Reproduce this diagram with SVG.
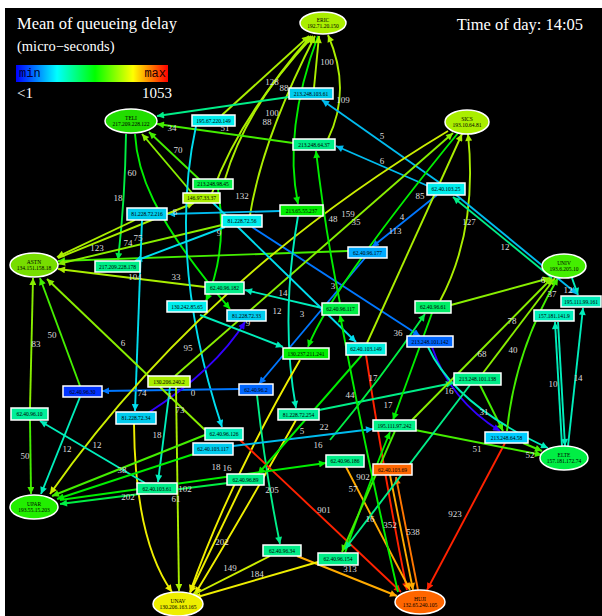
<svg xmlns="http://www.w3.org/2000/svg" width="602" height="616" viewBox="0 0 602 616">
<style>
.e{fill:none;stroke-width:1.9}
.yg{stroke:#aaee00}.lg{stroke:#88ee00}.g1{stroke:#44ee00}.g2{stroke:#00ee00}.g3{stroke:#00ee44}
.sg{stroke:#00ee88}.tl{stroke:#00eebb}.cy{stroke:#00ddee}.lb{stroke:#00bbee}.bl{stroke:#0077ff}
.in{stroke:#3300ff}.ye{stroke:#eeee00}.yo{stroke:#ccee00}.or{stroke:#ffaa00}.rd{stroke:#ff2200}.oo{stroke:#ff7700}
.lab{font-family:"Liberation Serif",serif;font-size:9px;fill:#dddddd;text-anchor:middle}
.bx{stroke:#ffffff;stroke-width:1.5}
.nt{font-family:"Liberation Serif",serif;font-size:5.5px;fill:#000;text-anchor:middle}
.ttl{font-family:"Liberation Serif",serif;fill:#ffffff}
</style>
<defs>
<linearGradient id="grad" x1="0" x2="1" y1="0" y2="0">
<stop offset="0" stop-color="#0000ff"/><stop offset="0.27" stop-color="#00ffff"/><stop offset="0.52" stop-color="#00ff00"/><stop offset="0.77" stop-color="#ffff00"/><stop offset="1" stop-color="#ff0000"/>
</linearGradient>
<marker id="m-yg" viewBox="0 0 10 10" refX="10" refY="5" markerWidth="9" markerHeight="7" markerUnits="userSpaceOnUse" orient="auto"><path d="M0,0L10,5L0,10z" fill="#aaee00"/></marker>
<marker id="m-lg" viewBox="0 0 10 10" refX="10" refY="5" markerWidth="9" markerHeight="7" markerUnits="userSpaceOnUse" orient="auto"><path d="M0,0L10,5L0,10z" fill="#88ee00"/></marker>
<marker id="m-g1" viewBox="0 0 10 10" refX="10" refY="5" markerWidth="9" markerHeight="7" markerUnits="userSpaceOnUse" orient="auto"><path d="M0,0L10,5L0,10z" fill="#44ee00"/></marker>
<marker id="m-g2" viewBox="0 0 10 10" refX="10" refY="5" markerWidth="9" markerHeight="7" markerUnits="userSpaceOnUse" orient="auto"><path d="M0,0L10,5L0,10z" fill="#00ee00"/></marker>
<marker id="m-g3" viewBox="0 0 10 10" refX="10" refY="5" markerWidth="9" markerHeight="7" markerUnits="userSpaceOnUse" orient="auto"><path d="M0,0L10,5L0,10z" fill="#00ee44"/></marker>
<marker id="m-sg" viewBox="0 0 10 10" refX="10" refY="5" markerWidth="9" markerHeight="7" markerUnits="userSpaceOnUse" orient="auto"><path d="M0,0L10,5L0,10z" fill="#00ee88"/></marker>
<marker id="m-tl" viewBox="0 0 10 10" refX="10" refY="5" markerWidth="9" markerHeight="7" markerUnits="userSpaceOnUse" orient="auto"><path d="M0,0L10,5L0,10z" fill="#00eebb"/></marker>
<marker id="m-cy" viewBox="0 0 10 10" refX="10" refY="5" markerWidth="9" markerHeight="7" markerUnits="userSpaceOnUse" orient="auto"><path d="M0,0L10,5L0,10z" fill="#00ddee"/></marker>
<marker id="m-lb" viewBox="0 0 10 10" refX="10" refY="5" markerWidth="9" markerHeight="7" markerUnits="userSpaceOnUse" orient="auto"><path d="M0,0L10,5L0,10z" fill="#00bbee"/></marker>
<marker id="m-bl" viewBox="0 0 10 10" refX="10" refY="5" markerWidth="9" markerHeight="7" markerUnits="userSpaceOnUse" orient="auto"><path d="M0,0L10,5L0,10z" fill="#0077ff"/></marker>
<marker id="m-in" viewBox="0 0 10 10" refX="10" refY="5" markerWidth="9" markerHeight="7" markerUnits="userSpaceOnUse" orient="auto"><path d="M0,0L10,5L0,10z" fill="#3300ff"/></marker>
<marker id="m-ye" viewBox="0 0 10 10" refX="10" refY="5" markerWidth="9" markerHeight="7" markerUnits="userSpaceOnUse" orient="auto"><path d="M0,0L10,5L0,10z" fill="#eeee00"/></marker>
<marker id="m-yo" viewBox="0 0 10 10" refX="10" refY="5" markerWidth="9" markerHeight="7" markerUnits="userSpaceOnUse" orient="auto"><path d="M0,0L10,5L0,10z" fill="#ccee00"/></marker>
<marker id="m-or" viewBox="0 0 10 10" refX="10" refY="5" markerWidth="9" markerHeight="7" markerUnits="userSpaceOnUse" orient="auto"><path d="M0,0L10,5L0,10z" fill="#ffaa00"/></marker>
<marker id="m-oo" viewBox="0 0 10 10" refX="10" refY="5" markerWidth="9" markerHeight="7" markerUnits="userSpaceOnUse" orient="auto"><path d="M0,0L10,5L0,10z" fill="#ff7700"/></marker>
<marker id="m-rd" viewBox="0 0 10 10" refX="10" refY="5" markerWidth="9" markerHeight="7" markerUnits="userSpaceOnUse" orient="auto"><path d="M0,0L10,5L0,10z" fill="#ff2200"/></marker>
</defs>
<rect x="0" y="0" width="602" height="616" fill="#ffffff"/>
<rect x="5" y="8" width="597" height="608" fill="#000000"/>
<g id="legend">
<text class="ttl" x="17" y="29" font-size="16.5">Mean of queueing delay</text>
<text class="ttl" x="17" y="51" font-size="14.5">(micro−seconds)</text>
<rect x="16" y="65" width="152" height="17" fill="url(#grad)"/>
<text x="19" y="77" font-family="Liberation Mono,monospace" font-size="12" fill="#000033">min</text>
<text x="166" y="77" font-family="Liberation Mono,monospace" font-size="12" fill="#220000" text-anchor="end">max</text>
<text class="ttl" x="17" y="98" font-size="15">&lt;1</text>
<text class="ttl" x="172" y="98" font-size="15" text-anchor="end">1053</text>
<text class="ttl" x="583" y="30" font-size="16.5" text-anchor="end">Time of day: 14:05</text>
</g>
<g id="connectors">
<path class="e yg" d="M222,115 L309,36" marker-end="url(#m-yg)"/>
<path class="e yg" d="M225,179 Q245,110 311,36" marker-end="url(#m-yg)"/>
<path class="e yg" d="M212,193 Q240,115 313,36" marker-end="url(#m-yg)"/>
<path class="e yg" d="M250,215 Q262,140 315,36" marker-end="url(#m-yg)"/>
<path class="e g2" d="M318,36 Q283,130 298,204" marker-end="url(#m-g2)"/>
<path class="e yg" d="M314,88 L319,36" marker-end="url(#m-yg)"/>
<path class="e yg" d="M328,139 Q352,90 328,35" marker-end="url(#m-yg)"/>
<path class="e lb" d="M440,183 L322,100" marker-end="url(#m-lb)"/>
<path class="e lb" d="M428,186 L336,146" marker-end="url(#m-lb)"/>
<path class="e sg" d="M289,97 L157,116" marker-end="url(#m-sg)"/>
<path class="e g1" d="M293,143 L157,124" marker-end="url(#m-g1)"/>
<path class="e g1" d="M200,180 L149,132" marker-end="url(#m-g1)"/>
<path class="e lg" d="M192,193 L142,134" marker-end="url(#m-lg)"/>
<path class="e g3" d="M126,134 Q125,200 118,260" marker-end="url(#m-g3)"/>
<path class="e g2" d="M135,134 C137,170 150,215 230,309" marker-end="url(#m-g2)"/>
<path class="e g2" d="M218,189 Q228,250 206,301" marker-end="url(#m-g2)"/>
<path class="e lb" d="M280,211 L168,214" marker-end="url(#m-lb)"/>
<path class="e yg" d="M135,220 L57,257" marker-end="url(#m-yg)"/>
<path class="e yg" d="M58,258 L194,203" marker-end="url(#m-yg)"/>
<path class="e g1" d="M348,251 L58,261" marker-end="url(#m-g1)"/>
<path class="e lg" d="M222,225 L58,264" marker-end="url(#m-lg)"/>
<path class="e cy" d="M225,227 L135,261" marker-end="url(#m-cy)"/>
<path class="e yg" d="M205,287 L58,269" marker-end="url(#m-yg)"/>
<path class="e tl" d="M322,308 L245,290" marker-end="url(#m-tl)"/>
<path class="e cy" d="M196,126 C180,200 180,300 222,427" marker-end="url(#m-cy)"/>
<path class="e cy" d="M142,220 L135,411" marker-end="url(#m-cy)"/>
<path class="e bl" d="M239,389 L102,391" marker-end="url(#m-bl)"/>
<path class="e in" d="M148,413 Q215,370 245,322" marker-end="url(#m-in)"/>
<path class="e bl" d="M252,227 L420,336" marker-end="url(#m-bl)"/>
<path class="e bl" d="M365,258 L259,384" marker-end="url(#m-bl)"/>
<path class="e bl" d="M437,195 L372,247" marker-end="url(#m-bl)"/>
<path class="e yg" d="M440,301 Q478,230 468,134" marker-end="url(#m-yg)"/>
<path class="e yo" d="M448,131 Q200,280 50,494" marker-end="url(#m-yo)"/>
<path class="e lg" d="M175,376 L453,133" marker-end="url(#m-lg)"/>
<path class="e g2" d="M458,133 Q330,290 308,347" marker-end="url(#m-g2)"/>
<path class="e yg" d="M367,343 L462,134" marker-end="url(#m-yg)"/>
<path class="e g2" d="M340,303 Q325,230 316,151" marker-end="url(#m-g2)"/>
<path class="e tl" d="M298,216 Q280,320 296,408" marker-end="url(#m-tl)"/>
<path class="e tl" d="M200,315 L283,347" marker-end="url(#m-tl)"/>
<path class="e cy" d="M207,197 L356,342" marker-end="url(#m-cy)"/>
<path class="e ye" d="M300,360 Q230,480 190,592" marker-end="url(#m-ye)"/>
<path class="e ye" d="M296,420 Q240,520 195,594" marker-end="url(#m-ye)"/>
<path class="e ye" d="M134,424 Q135,540 172,592" marker-end="url(#m-ye)"/>
<path class="e yg" d="M176,387 L179,591" marker-end="url(#m-yg)"/>
<path class="e tl" d="M170,387 L158,482" marker-end="url(#m-tl)"/>
<path class="e sg" d="M257,395 Q265,470 280,544" marker-end="url(#m-sg)"/>
<path class="e yo" d="M270,556 L191,596" marker-end="url(#m-yo)"/>
<path class="e or" d="M297,556 L397,596" marker-end="url(#m-or)"/>
<path class="e ye" d="M318,562 L194,598" marker-end="url(#m-ye)"/>
<path class="e rd" d="M240,440 L401,592" marker-end="url(#m-rd)"/>
<path class="e rd" d="M505,443 L427,590" marker-end="url(#m-rd)"/>
<path class="e rd" d="M366,355 Q385,480 407,590" marker-end="url(#m-rd)"/>
<path class="e or" d="M390,475 L413,590" marker-end="url(#m-or)"/>
<path class="e oo" d="M418,590 L396,477" marker-end="url(#m-oo)"/>
<path class="e or" d="M346,467 L410,590" marker-end="url(#m-or)"/>
<path class="e g3" d="M228,483 L60,504" marker-end="url(#m-g3)"/>
<path class="e g2" d="M60,500 L326,463" marker-end="url(#m-g2)"/>
<path class="e g1" d="M30,420 L31,494" marker-end="url(#m-g1)"/>
<path class="e tl" d="M80,397 L41,494" marker-end="url(#m-tl)"/>
<path class="e tl" d="M145,483 L40,421" marker-end="url(#m-tl)"/>
<path class="e lg" d="M30,408 L33,278" marker-end="url(#m-lg)"/>
<path class="e g1" d="M80,386 L40,278" marker-end="url(#m-g1)"/>
<path class="e lg" d="M205,430 L47,279" marker-end="url(#m-lg)"/>
<path class="e g1" d="M205,435 L52,496" marker-end="url(#m-g1)"/>
<path class="e g2" d="M200,452 L57,499" marker-end="url(#m-g2)"/>
<path class="e ye" d="M242,485 L190,593" marker-end="url(#m-ye)"/>
<path class="e g1" d="M415,430 L542,455" marker-end="url(#m-g1)"/>
<path class="e g1" d="M523,443 L542,451" marker-end="url(#m-g1)"/>
<path class="e in" d="M432,347 Q450,400 500,431" marker-end="url(#m-in)"/>
<path class="e g1" d="M480,385 L503,431" marker-end="url(#m-g1)"/>
<path class="e tl" d="M428,347 Q455,405 548,448" marker-end="url(#m-tl)"/>
<path class="e sg" d="M319,410 L453,383" marker-end="url(#m-sg)"/>
<path class="e lg" d="M412,420 L552,278" marker-end="url(#m-lg)"/>
<path class="e lg" d="M483,373 L555,278" marker-end="url(#m-lg)"/>
<path class="e g1" d="M507,431 Q515,350 558,278" marker-end="url(#m-g1)"/>
<path class="e tl" d="M562,446 L555,322" marker-end="url(#m-tl)"/>
<path class="e tl" d="M558,322 L565,446" marker-end="url(#m-tl)"/>
<path class="e tl" d="M568,446 L583,308" marker-end="url(#m-tl)"/>
<path class="e tl" d="M572,278 L578,295" marker-end="url(#m-tl)"/>
<path class="e sg" d="M552,278 L453,197" marker-end="url(#m-sg)"/>
<path class="e lb" d="M455,194 L577,294" marker-end="url(#m-lb)"/>
<path class="e lg" d="M451,305 L550,278" marker-end="url(#m-lg)"/>
<path class="e g3" d="M330,440 Q380,380 425,314" marker-end="url(#m-g3)"/>
<path class="e lb" d="M233,446 L373,429" marker-end="url(#m-lb)"/>
<path class="e g2" d="M345,553 Q370,480 390,432" marker-end="url(#m-g2)"/>
<path class="e g1" d="M395,431 L342,552" marker-end="url(#m-g1)"/>
<path class="e sg" d="M470,385 L345,549" marker-end="url(#m-sg)"/>
<path class="e g2" d="M362,355 L258,474" marker-end="url(#m-g2)"/>
<path class="e g2" d="M398,592 Q365,450 340,315" marker-end="url(#m-g2)"/>
<path class="e g2" d="M432,313 L393,420" marker-end="url(#m-g2)"/>
</g>
<g id="edge-labels">
<text class="lab" x="272" y="85">128</text>
<text class="lab" x="284" y="91">88</text>
<text class="lab" x="272" y="116">100</text>
<text class="lab" x="267" y="125">88</text>
<text class="lab" x="242" y="199">132</text>
<text class="lab" x="327" y="65">100</text>
<text class="lab" x="343" y="103">109</text>
<text class="lab" x="382" y="139">5</text>
<text class="lab" x="382" y="164">6</text>
<text class="lab" x="172" y="131">34</text>
<text class="lab" x="225" y="131">51</text>
<text class="lab" x="178" y="153">70</text>
<text class="lab" x="118" y="201">18</text>
<text class="lab" x="132" y="176">60</text>
<text class="lab" x="175" y="215">8</text>
<text class="lab" x="97" y="251">123</text>
<text class="lab" x="138" y="241">75</text>
<text class="lab" x="128" y="246">74</text>
<text class="lab" x="219" y="236">9</text>
<text class="lab" x="135" y="280">104</text>
<text class="lab" x="176" y="280">33</text>
<text class="lab" x="188" y="351">95</text>
<text class="lab" x="123" y="346">6</text>
<text class="lab" x="142" y="396">74</text>
<text class="lab" x="248" y="326">9</text>
<text class="lab" x="398" y="336">36</text>
<text class="lab" x="333" y="289">3</text>
<text class="lab" x="302" y="317">3</text>
<text class="lab" x="395" y="234">113</text>
<text class="lab" x="402" y="220">4</text>
<text class="lab" x="420" y="199">85</text>
<text class="lab" x="469" y="225">127</text>
<text class="lab" x="348" y="217">159</text>
<text class="lab" x="356" y="225">35</text>
<text class="lab" x="333" y="222">48</text>
<text class="lab" x="283" y="296">14</text>
<text class="lab" x="277" y="314">12</text>
<text class="lab" x="170" y="399">1</text>
<text class="lab" x="193" y="396">0</text>
<text class="lab" x="180" y="413">73</text>
<text class="lab" x="157" y="438">18</text>
<text class="lab" x="272" y="493">205</text>
<text class="lab" x="230" y="571">149</text>
<text class="lab" x="350" y="572">313</text>
<text class="lab" x="257" y="577">184</text>
<text class="lab" x="222" y="545">202</text>
<text class="lab" x="324" y="513">901</text>
<text class="lab" x="455" y="517">923</text>
<text class="lab" x="413" y="535">538</text>
<text class="lab" x="390" y="528">352</text>
<text class="lab" x="370" y="522">16</text>
<text class="lab" x="363" y="480">902</text>
<text class="lab" x="353" y="492">57</text>
<text class="lab" x="128" y="500">202</text>
<text class="lab" x="185" y="492">102</text>
<text class="lab" x="176" y="502">61</text>
<text class="lab" x="25" y="459">50</text>
<text class="lab" x="67" y="452">12</text>
<text class="lab" x="97" y="448">12</text>
<text class="lab" x="122" y="473">38</text>
<text class="lab" x="36" y="347">83</text>
<text class="lab" x="52" y="338">50</text>
<text class="lab" x="216" y="470">18</text>
<text class="lab" x="227" y="471">16</text>
<text class="lab" x="477" y="452">51</text>
<text class="lab" x="530" y="458">52</text>
<text class="lab" x="484" y="415">31</text>
<text class="lab" x="449" y="394">16</text>
<text class="lab" x="482" y="357">68</text>
<text class="lab" x="512" y="324">78</text>
<text class="lab" x="513" y="353">40</text>
<text class="lab" x="553" y="387">10</text>
<text class="lab" x="578" y="381">14</text>
<text class="lab" x="568" y="293">12</text>
<text class="lab" x="505" y="250">12</text>
<text class="lab" x="543" y="283">6</text>
<text class="lab" x="552" y="297">37</text>
<text class="lab" x="302" y="434">5</text>
<text class="lab" x="324" y="430">22</text>
<text class="lab" x="318" y="448">16</text>
<text class="lab" x="350" y="398">44</text>
<text class="lab" x="373" y="381">17</text>
<text class="lab" x="388" y="408">17</text>
</g>
<g id="n-ERIC"><ellipse cx="323" cy="23" rx="23" ry="11" fill="#aaee00" stroke="#fff" stroke-width="1.5"/><text class="nt" x="323" y="22">ERIC</text><text class="nt" x="323" y="28">192.71.20.150</text></g>
<g id="n-TELI"><ellipse cx="131" cy="121" rx="26" ry="12" fill="#22dd00" stroke="#fff" stroke-width="1.5"/><text class="nt" x="131" y="120">TELI</text><text class="nt" x="131" y="126">217.209.228.122</text></g>
<g id="n-SICS"><ellipse cx="467" cy="122" rx="22" ry="12" fill="#aaee00" stroke="#fff" stroke-width="1.5"/><text class="nt" x="467" y="121">SICS</text><text class="nt" x="467" y="127">193.10.64.81</text></g>
<g id="n-ASTN"><ellipse cx="34" cy="265" rx="24" ry="12" fill="#77dd00" stroke="#fff" stroke-width="1.5"/><text class="nt" x="34" y="264">ASTN</text><text class="nt" x="34" y="270">134.151.158.18</text></g>
<g id="n-UNIV"><ellipse cx="564" cy="266" rx="22" ry="12" fill="#44ee00" stroke="#fff" stroke-width="1.5"/><text class="nt" x="564" y="265">UNIV</text><text class="nt" x="564" y="271">193.6.205.10</text></g>
<g id="n-ELTE"><ellipse cx="564" cy="458" rx="24" ry="12" fill="#00ee44" stroke="#fff" stroke-width="1.5"/><text class="nt" x="564" y="457">ELTE</text><text class="nt" x="564" y="463">157.181.172.74</text></g>
<g id="n-UPAR"><ellipse cx="34" cy="507" rx="24" ry="12" fill="#22ee00" stroke="#fff" stroke-width="1.5"/><text class="nt" x="34" y="506">UPAR</text><text class="nt" x="34" y="512">193.55.15.203</text></g>
<g id="n-UNAV"><ellipse cx="178" cy="604" rx="25" ry="12" fill="#eeee00" stroke="#fff" stroke-width="1.5"/><text class="nt" x="178" y="603">UNAV</text><text class="nt" x="178" y="609">130.206.163.165</text></g>
<g id="n-HUJI"><ellipse cx="420" cy="602" rx="25" ry="12" fill="#ff6600" stroke="#fff" stroke-width="1.5"/><text class="nt" x="420" y="601">HUJI</text><text class="nt" x="420" y="607">132.65.240.105</text></g>
<g id="b1"><rect class="bx" x="192" y="115" width="43" height="11" fill="#00eeee"/><text class="nt" x="213.5" y="122.5">195.67.220.149</text></g>
<g id="b2"><rect class="bx" x="289" y="88" width="44" height="11" fill="#00ccee"/><text class="nt" x="311" y="95.5">213.248.103.61</text></g>
<g id="b3"><rect class="bx" x="293" y="139" width="42" height="11" fill="#00ee88"/><text class="nt" x="314" y="146.5">213.248.64.37</text></g>
<g id="b4"><rect class="bx" x="193" y="179" width="40" height="10" fill="#00ee44"/><text class="nt" x="213" y="186">213.248.98.45</text></g>
<g id="b5"><rect class="bx" x="183" y="193" width="37" height="10" fill="#aaee00"/><text class="nt" x="201.5" y="200">146.97.33.37</text></g>
<g id="b6"><rect class="bx" x="280" y="205" width="43" height="11" fill="#00ee00"/><text class="nt" x="301.5" y="212.5">213.65.55.237</text></g>
<g id="b7"><rect class="bx" x="222" y="215" width="40" height="12" fill="#00eeee"/><text class="nt" x="242" y="223">81.228.72.56</text></g>
<g id="b8"><rect class="bx" x="348" y="247" width="39" height="11" fill="#00aaff"/><text class="nt" x="367.5" y="254.5">62.40.96.177</text></g>
<g id="b9"><rect class="bx" x="205" y="282" width="39" height="12" fill="#00ee88"/><text class="nt" x="224.5" y="290">62.40.96.182</text></g>
<g id="b10"><rect class="bx" x="127" y="208" width="40" height="12" fill="#00ccee"/><text class="nt" x="147" y="216">81.228.72.216</text></g>
<g id="b11"><rect class="bx" x="95" y="261" width="45" height="11" fill="#00ee88"/><text class="nt" x="117.5" y="268.5">217.209.228.178</text></g>
<g id="b12"><rect class="bx" x="167" y="301" width="40" height="11" fill="#00eeee"/><text class="nt" x="187" y="308.5">130.242.85.65</text></g>
<g id="b13"><rect class="bx" x="427" y="183" width="38" height="12" fill="#00eeee"/><text class="nt" x="446" y="191">62.40.103.25</text></g>
<g id="b14"><rect class="bx" x="561" y="296" width="40" height="11" fill="#00eebb"/><text class="nt" x="581" y="303.5">195.111.99.161</text></g>
<g id="b15"><rect class="bx" x="415" y="301" width="36" height="12" fill="#00ee66"/><text class="nt" x="433" y="309">62.40.96.61</text></g>
<g id="b16"><rect class="bx" x="63" y="386" width="39" height="11" fill="#0033ff"/><text class="nt" x="82.5" y="393.5">62.40.96.30</text></g>
<g id="b17"><rect class="bx" x="11" y="408" width="37" height="12" fill="#00ee99"/><text class="nt" x="29.5" y="416">62.40.96.10</text></g>
<g id="b18"><rect class="bx" x="148" y="376" width="42" height="11" fill="#aaee00"/><text class="nt" x="169" y="383.5">130.206.240.2</text></g>
<g id="b19"><rect class="bx" x="116" y="412" width="40" height="12" fill="#00ccee"/><text class="nt" x="136" y="420">81.228.72.34</text></g>
<g id="b20"><rect class="bx" x="205" y="428" width="38" height="12" fill="#00eebb"/><text class="nt" x="224" y="436">62.40.96.126</text></g>
<g id="b21"><rect class="bx" x="193" y="443" width="40" height="12" fill="#00ccee"/><text class="nt" x="213" y="451">62.40.103.117</text></g>
<g id="b22"><rect class="bx" x="227" y="310" width="39" height="11" fill="#00ccee"/><text class="nt" x="246.5" y="317.5">81.228.72.33</text></g>
<g id="b23"><rect class="bx" x="322" y="303" width="37" height="12" fill="#00ee44"/><text class="nt" x="340.5" y="311">62.40.96.117</text></g>
<g id="b24"><rect class="bx" x="283" y="348" width="46" height="11" fill="#00ee00"/><text class="nt" x="306" y="355.5">130.237.211.241</text></g>
<g id="b25"><rect class="bx" x="346" y="343" width="40" height="12" fill="#00eedd"/><text class="nt" x="366" y="351">62.40.103.149</text></g>
<g id="b26"><rect class="bx" x="239" y="384" width="34" height="11" fill="#0066ff"/><text class="nt" x="256" y="391.5">62.40.96.2</text></g>
<g id="b27"><rect class="bx" x="278" y="409" width="41" height="11" fill="#00ee99"/><text class="nt" x="298.5" y="416.5">81.228.72.254</text></g>
<g id="b28"><rect class="bx" x="373" y="420" width="43" height="11" fill="#00ee88"/><text class="nt" x="394.5" y="427.5">195.111.97.242</text></g>
<g id="b29"><rect class="bx" x="326" y="455" width="38" height="12" fill="#00ee88"/><text class="nt" x="345" y="463">62.40.96.186</text></g>
<g id="b30"><rect class="bx" x="407" y="336" width="46" height="11" fill="#0066ff"/><text class="nt" x="430" y="343.5">213.248.101.142</text></g>
<g id="b31"><rect class="bx" x="534" y="310" width="40" height="11" fill="#00eebb"/><text class="nt" x="554" y="317.5">157.181.141.9</text></g>
<g id="b32"><rect class="bx" x="454" y="373" width="47" height="12" fill="#00ee88"/><text class="nt" x="477.5" y="381">213.248.101.138</text></g>
<g id="b33"><rect class="bx" x="485" y="432" width="43" height="11" fill="#00ccff"/><text class="nt" x="506.5" y="439.5">213.248.64.58</text></g>
<g id="b34"><rect class="bx" x="137" y="483" width="40" height="11" fill="#00ee88"/><text class="nt" x="157" y="490.5">62.40.103.61</text></g>
<g id="b35"><rect class="bx" x="227" y="474" width="37" height="11" fill="#00ee88"/><text class="nt" x="245.5" y="481.5">62.40.96.89</text></g>
<g id="b36"><rect class="bx" x="373" y="464" width="39" height="11" fill="#ff6600"/><text class="nt" x="392.5" y="471.5">62.40.103.69</text></g>
<g id="b37"><rect class="bx" x="263" y="545" width="38" height="11" fill="#00ee88"/><text class="nt" x="282" y="552.5">62.40.96.34</text></g>
<g id="b38"><rect class="bx" x="318" y="553" width="40" height="12" fill="#00ee88"/><text class="nt" x="338" y="561">62.40.96.154</text></g>
</svg>
